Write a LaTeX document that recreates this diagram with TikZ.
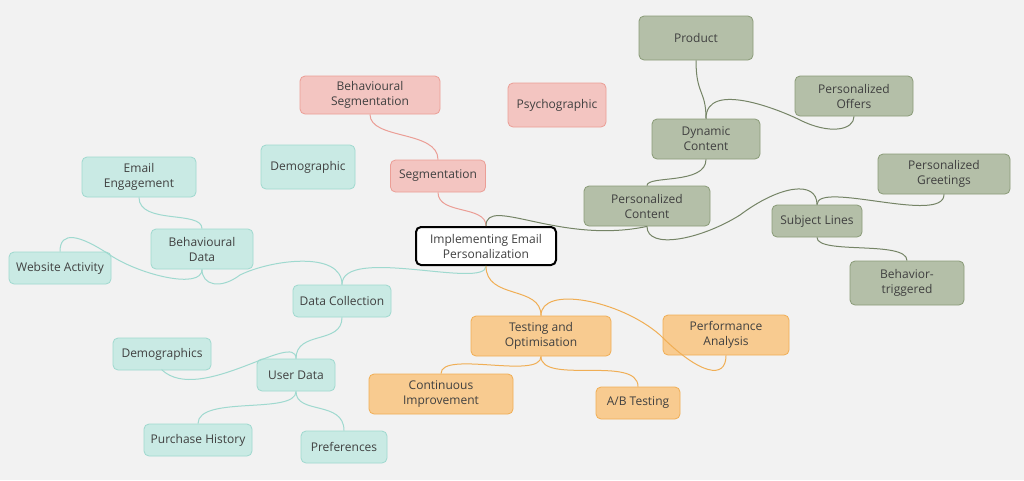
\documentclass[tikz,border=0pt]{standalone}
\usepackage{fontspec}
\setmainfont{Open Sans}
\begin{document}
\begin{tikzpicture}[x=1pt,y=-1pt,
 box/.style={rounded corners=5pt,align=center,font=\fontsize{12}{15}\selectfont,text=black!75,inner sep=0pt,line width=0.8pt},
 pk/.style={box,fill=pinkF,draw=pinkD},
 tl/.style={box,fill=tealF,draw=tealD},
 gr/.style={box,fill=grnF,draw=grnD},
 og/.style={box,fill=orgF,draw=orgD},
 lp/.style={draw=pinkD,line width=1pt},
 lt/.style={draw=tealD,line width=1pt},
 lg/.style={draw=grnD!85!black,line width=1pt},
 lo/.style={draw=orgD,line width=1pt}]
\definecolor{pinkF}{HTML}{F3C5C1}\definecolor{pinkD}{HTML}{EB9E96}
\definecolor{tealF}{HTML}{C9EAE4}\definecolor{tealD}{HTML}{9FD9CF}
\definecolor{grnF}{HTML}{B4BFA8}\definecolor{grnD}{HTML}{8A9B78}
\definecolor{orgF}{HTML}{F8CB90}\definecolor{orgD}{HTML}{F0AE55}
\fill[white!95!black] (0,0) rectangle (1024,480);
\useasboundingbox (0,0) rectangle (1024,480);
% nodes
\node[box,draw=black,fill=white,line width=2pt,minimum width=140,minimum height=38] (c) at (486,246) {Implementing Email\\Personalization};
\node[pk,minimum width=95,minimum height=32] (seg) at (438,176) {Segmentation};
\node[pk,minimum width=140,minimum height=38] (bs) at (370,95) {Behavioural\\Segmentation};
\node[pk,minimum width=98,minimum height=44] (psy) at (557,105) {Psychographic};
\node[tl,minimum width=94,minimum height=44] (dem) at (308,167) {Demographic};
\node[gr,minimum width=114,minimum height=44] (prod) at (696,38) {Product};
\node[gr,minimum width=118,minimum height=40] (po) at (854,96) {Personalized\\Offers};
\node[gr,minimum width=108,minimum height=40] (dc) at (706,139) {Dynamic\\Content};
\node[gr,minimum width=126,minimum height=40] (pc) at (647,206) {Personalized\\Content};
\node[gr,minimum width=90,minimum height=32] (sl) at (817,221) {Subject Lines};
\node[gr,minimum width=132,minimum height=40] (pg) at (944,174) {Personalized\\Greetings};
\node[gr,minimum width=114,minimum height=44] (bt) at (907,283) {Behavior-\\triggered};
\node[tl,minimum width=114,minimum height=40] (ee) at (139,177) {Email\\Engagement};
\node[tl,minimum width=102,minimum height=40] (bd) at (202,249) {Behavioural\\Data};
\node[tl,minimum width=102,minimum height=32] (wa) at (60,268) {Website Activity};
\node[tl,minimum width=98,minimum height=32] (dcol) at (342,301) {Data Collection};
\node[tl,minimum width=98,minimum height=32] (dems) at (162,354) {Demographics};
\node[tl,minimum width=78,minimum height=32] (ud) at (296,375) {User Data};
\node[tl,minimum width=108,minimum height=32] (ph) at (198,440) {Purchase History};
\node[tl,minimum width=86,minimum height=32] (pr) at (344,447) {Preferences};
\node[og,minimum width=140,minimum height=40] (to) at (541,336) {Testing and\\Optimisation};
\node[og,minimum width=126,minimum height=40] (pa) at (726,335) {Performance\\Analysis};
\node[og,minimum width=144,minimum height=40] (ci) at (441,394) {Continuous\\Improvement};
\node[og,minimum width=84,minimum height=32] (ab) at (638,403) {A/B Testing};
% connectors
\begin{scope}[on background layer/.style={}]
\end{scope}
\draw[lp] (c.north) .. controls (486,205) and (438,215) .. (seg.south);
\draw[lp] (seg.north) .. controls (438,130) and (370,140) .. (bs.south);
\draw[lg] (c.north) .. controls (486,195) and (560,245) .. (pc.south);
\draw[lg] (pc.north) .. controls (647,175) and (706,185) .. (dc.south);
\draw[lg] (dc.north) .. controls (706,90) and (696,95) .. (prod.south);
\draw[lg] (dc.north) .. controls (706,80) and (780,110) .. (800,120) .. controls (830,135) and (854,130) .. (po.south);
\draw[lg] (pc.south) .. controls (647,250) and (700,240) .. (740,215) .. controls (780,185) and (817,180) .. (sl.north);
\draw[lg] (sl.north) .. controls (817,180) and (944,225) .. (pg.south);
\draw[lg] (sl.south) .. controls (817,255) and (907,240) .. (bt.north);
\draw[lt] (c.south) .. controls (486,290) and (342,245) .. (dcol.north);
\draw[lt] (dcol.north) .. controls (342,250) and (270,260) .. (240,275) .. controls (220,290) and (202,285) .. (bd.south);
\draw[lt] (bd.north) .. controls (202,210) and (139,225) .. (ee.south);
\draw[lt] (bd.south) .. controls (202,290) and (140,275) .. (110,255) .. controls (80,235) and (60,230) .. (wa.north);
\draw[lt] (dcol.south) .. controls (342,345) and (296,330) .. (ud.north);
\draw[lt] (ud.north) .. controls (296,330) and (200,405) .. (162,370) -- (dems.south);
\draw[lt] (ud.south) .. controls (296,415) and (198,395) .. (ph.north);
\draw[lt] (ud.south) .. controls (296,415) and (344,400) .. (pr.north);
\draw[lo] (c.south) .. controls (486,300) and (541,285) .. (to.north);
\draw[lo] (to.north) .. controls (541,285) and (620,300) .. (660,335) .. controls (700,375) and (726,380) .. (pa.south);
\draw[lo] (to.south) .. controls (541,380) and (441,350) .. (ci.north);
\draw[lo] (to.south) .. controls (541,385) and (638,355) .. (ab.north);
\end{tikzpicture}
\end{document}
